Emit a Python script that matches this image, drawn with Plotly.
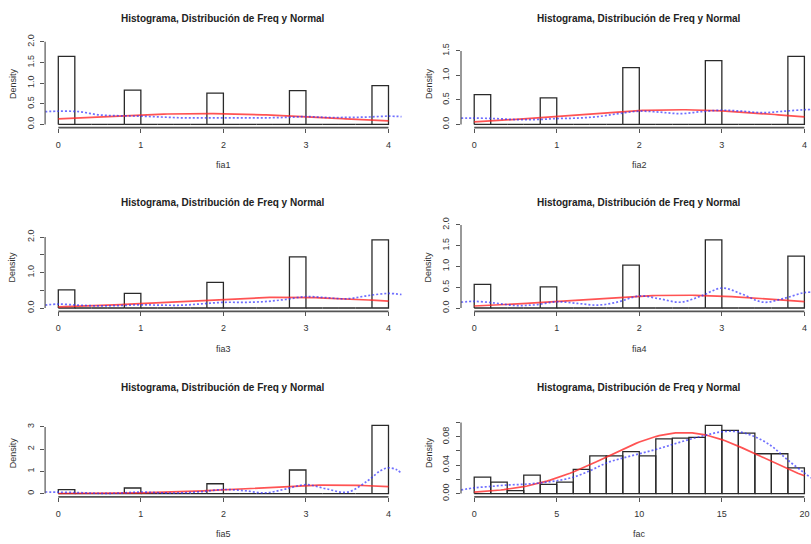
import numpy as np
import plotly.graph_objects as go

# ---- data -------------------------------------------------------------
fia_values = [0, 1, 2, 3, 4]
fia1_density = [1.65, 0.83, 0.76, 0.82, 0.94]
fia2_density = [0.61, 0.54, 1.16, 1.30, 1.39]
fia3_density = [0.51, 0.41, 0.72, 1.44, 1.92]
fia4_density = [0.57, 0.51, 1.03, 1.64, 1.25]
fia5_density = [0.18, 0.25, 0.44, 1.06, 3.07]

fac_breaks = list(range(0, 21))
fac_density = [0.023, 0.016, 0.004, 0.026, 0.013, 0.016, 0.034, 0.053, 0.053, 0.059,
               0.053, 0.077, 0.078, 0.079, 0.096, 0.089, 0.085, 0.056, 0.056, 0.036]

# normal curve parameters (red line)
norm_mean = [1.74, 2.46, 2.75, 2.49, 3.33, 12.7]
norm_sd = [1.52, 1.33, 1.32, 1.29, 1.04, 4.65]

# kernel density estimate (blue dotted line)
kde_x = [-0.16, 0, 0.25, 0.5, 0.75, 1.0, 1.25, 1.5, 1.75, 2.0, 2.25, 2.5, 2.75,
         3.0, 3.25, 3.5, 3.75, 4.0, 4.16]
fia1_kde = [0.31, 0.32, 0.31, 0.23, 0.21, 0.20, 0.18, 0.16, 0.16, 0.16, 0.16, 0.16, 0.17,
            0.19, 0.17, 0.17, 0.18, 0.20, 0.19]
fia2_kde = [0.13, 0.13, 0.12, 0.10, 0.10, 0.12, 0.13, 0.16, 0.22, 0.27, 0.25, 0.22, 0.26,
            0.29, 0.27, 0.24, 0.27, 0.30, 0.31]
fia3_kde = [0.08, 0.11, 0.08, 0.06, 0.07, 0.09, 0.08, 0.08, 0.12, 0.16, 0.16, 0.18, 0.24,
            0.32, 0.29, 0.26, 0.35, 0.41, 0.38]
fia4_kde = [0.14, 0.16, 0.12, 0.06, 0.08, 0.15, 0.11, 0.07, 0.15, 0.29, 0.22, 0.14, 0.29,
            0.48, 0.33, 0.14, 0.23, 0.37, 0.38]
fia5_kde_x = [-0.16, 0, 0.25, 0.5, 0.75, 1.0, 1.25, 1.5, 1.75, 2.0, 2.25, 2.5, 2.75,
              3.0, 3.25, 3.5, 3.75, 3.9, 4.0, 4.1, 4.16]
fia5_kde = [0.07, 0.06, 0.04, 0.01, 0.02, 0.07, 0.03, 0.03, 0.09, 0.18, 0.13, 0.03, 0.20,
            0.40, 0.21, 0.06, 0.58, 1.02, 1.16, 1.07, 0.90]
fac_kde_x = [-0.8, 0, 1, 2, 3, 4, 5, 6, 7, 8, 9, 10, 11, 12, 13, 14, 15, 16, 17, 18,
             19, 20, 20.4]
fac_kde = [0.005, 0.008, 0.010, 0.012, 0.013, 0.015, 0.018, 0.023, 0.032, 0.043, 0.050,
           0.056, 0.062, 0.069, 0.076, 0.082, 0.087, 0.087, 0.080, 0.067, 0.047, 0.029,
           0.022]

var_names = ["fia1", "fia2", "fia3", "fia4", "fia5", "fac"]
title_text = "Histograma, Distribución de Freq y Normal"

# ---- figure geometry (pixels) -----------------------------------------
W, H = 811, 544
col_left = [45.1, 461.0]
plot_w = 356.6
row_bottom = [124.0, 311.0, 500.0]
plot_h = 90.0


def fia_bins(dens):
    """Spread the five integer-value densities over R-style 0.2 wide breaks."""
    breaks = np.round(np.arange(0, 4.0001, 0.2), 2)
    d = np.zeros(len(breaks) - 1)
    for v, val in zip(fia_values, dens):
        idx = 0 if v == 0 else int(round(v / 0.2)) - 1
        d[idx] = val
    return breaks, d


def rect_path(breaks, dens):
    xs, ys = [], []
    for i, d in enumerate(dens):
        x0, x1 = breaks[i], breaks[i + 1]
        xs += [x0, x0, x1, x1, x0, None]
        ys += [0, d, d, 0, 0, None]
    return xs, ys


panels = []
for k, dens in enumerate([fia1_density, fia2_density, fia3_density, fia4_density, fia5_density]):
    br, d = fia_bins(dens)
    kx = fia5_kde_x if k == 4 else kde_x
    ky = [fia1_kde, fia2_kde, fia3_kde, fia4_kde, fia5_kde][k]
    panels.append(dict(breaks=br, dens=d, kx=kx, ky=ky, xlim=(0, 4),
                       xticks=[0, 1, 2, 3, 4]))
panels.append(dict(breaks=np.array(fac_breaks, float), dens=np.array(fac_density),
                   kx=fac_kde_x, ky=fac_kde, xlim=(0, 20), xticks=[0, 5, 10, 15, 20]))

ytick_sets = [
    ([0, 0.5, 1.0, 1.5, 2.0], ["0.0", "0.5", "1.0", "1.5", "2.0"]),
    ([0, 0.5, 1.0, 1.5], ["0.0", "0.5", "1.0", "1.5"]),
    ([0, 0.5, 1.0, 1.5, 2.0], ["0.0", "", "1.0", "", "2.0"]),
    ([0, 0.5, 1.0, 1.5, 2.0], ["0.0", "0.5", "1.0", "1.5", "2.0"]),
    ([0, 1, 2, 3], ["0", "1", "2", "3"]),
    ([0, 0.02, 0.04, 0.06, 0.08, 0.10], ["0.00", "", "0.04", "", "0.08", ""]),
]

fig = go.Figure()
layout = dict(width=W, height=H, margin=dict(l=0, r=0, t=0, b=0), autosize=False,
              paper_bgcolor="white", plot_bgcolor="white", showlegend=False,
              font=dict(family="Liberation Sans, Arial, sans-serif", color="#333"))
annotations, shapes = [], []
axis_col = "#555"
tick_font = dict(size=9, color="#333")

for i, p in enumerate(panels):
    r, c = divmod(i, 2)
    n = i + 1
    xa = "x" if n == 1 else f"x{n}"
    ya = "y" if n == 1 else f"y{n}"

    lo, hi = p["xlim"]
    span = hi - lo
    xr0 = lo - 0.04 * span
    full_r = hi + 0.04 * span
    left_px = col_left[c]
    right_px = min(left_px + plot_w, W)
    xr1 = xr0 + (full_r - xr0) * (right_px - left_px) / plot_w

    ymax = 1.2 * float(np.max(p["dens"]))
    yr = [-0.04 * ymax, 1.04 * ymax]
    bot = row_bottom[r]
    top = bot - plot_h

    # histogram bins
    hx, hy = rect_path(p["breaks"], p["dens"])
    fig.add_trace(go.Scatter(x=hx, y=hy, mode="lines", xaxis=xa, yaxis=ya,
                             line=dict(color="#2a2a2a", width=1.3), hoverinfo="skip"))
    # normal density
    cx = np.linspace(lo, hi, 101)
    mu, sd = norm_mean[i], norm_sd[i]
    cy = np.exp(-0.5 * ((cx - mu) / sd) ** 2) / (sd * np.sqrt(2 * np.pi))
    fig.add_trace(go.Scatter(x=cx, y=cy, mode="lines", xaxis=xa, yaxis=ya,
                             line=dict(color="rgba(255,40,40,0.8)", width=1.7)))
    # kernel density
    fig.add_trace(go.Scatter(x=p["kx"], y=p["ky"], mode="lines", xaxis=xa, yaxis=ya,
                             line=dict(color="rgba(50,50,255,0.7)", width=1.7,
                                       dash="2px,2px", shape="spline", smoothing=1.0)))

    yt, ytl = ytick_sets[i]
    layout["xaxis" if n == 1 else f"xaxis{n}"] = dict(
        domain=[left_px / W, right_px / W], range=[xr0, xr1], anchor=ya,
        showgrid=False, zeroline=False, showline=False, ticks="outside", ticklen=4,
        tickwidth=1.2, tickcolor=axis_col, tickvals=p["xticks"],
        ticktext=[str(t) for t in p["xticks"]], tickfont=tick_font,
        ticklabelstandoff=4, fixedrange=True)
    layout["yaxis" if n == 1 else f"yaxis{n}"] = dict(
        domain=[1 - bot / H, 1 - top / H], range=yr, anchor=xa,
        showgrid=False, zeroline=False, showline=False, ticks="outside", ticklen=4,
        tickwidth=1.2, tickcolor=axis_col, tickvals=yt, ticktext=ytl, tickangle=-90,
        tickfont=tick_font, ticklabelstandoff=3, fixedrange=True)

    # R-style axis lines spanning first to last tick
    shapes.append(dict(type="line", xref=xa, yref=f"{ya} domain", x0=p["xticks"][0],
                       x1=p["xticks"][-1], y0=0, y1=0,
                       line=dict(color=axis_col, width=1.8)))
    shapes.append(dict(type="line", xref=f"{xa} domain", yref=ya, x0=0, x1=0,
                       y0=yt[0], y1=yt[-1], line=dict(color=axis_col, width=1.2)))

    cx_px = left_px + plot_w / 2
    annotations.append(dict(text=f"<b>{title_text}</b>", xref="paper", yref="paper",
                            x=cx_px / W, y=1 - (top - 21) / H, showarrow=False,
                            xanchor="center", yanchor="middle",
                            font=dict(size=10, color="#222")))
    annotations.append(dict(text=var_names[i], xref="paper", yref="paper",
                            x=cx_px / W, y=1 - (bot + 38) / H, showarrow=False,
                            xanchor="center", yanchor="middle",
                            font=dict(size=9, color="#333")))
    annotations.append(dict(text="Density", xref="paper", yref="paper",
                            x=(left_px - 32.6) / W, y=1 - (bot - plot_h / 2) / H,
                            showarrow=False, textangle=-90, xanchor="center",
                            yanchor="middle", font=dict(size=9, color="#333")))

layout["annotations"] = annotations
layout["shapes"] = shapes
fig.update_layout(**layout)
fig.write_html("out.html")
